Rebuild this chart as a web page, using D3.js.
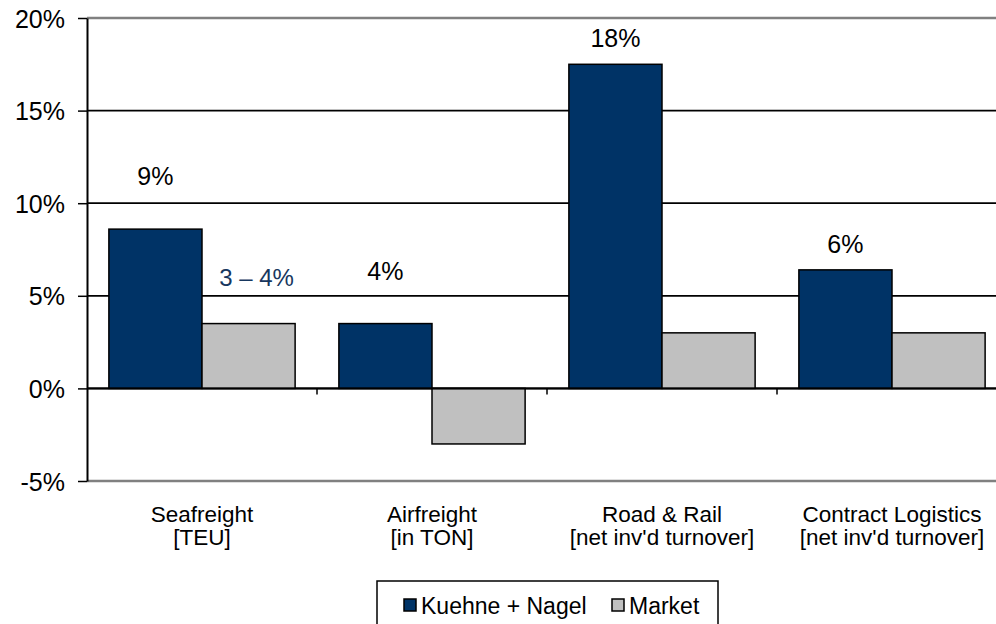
<!DOCTYPE html>
<html>
<head>
<meta charset="utf-8">
<script src="https://cdn.jsdelivr.net/npm/d3@7"></script>
<style>
  body { margin: 0; background: #fff; }
  text { font-family: "Liberation Sans", Arial, sans-serif; }
</style>
</head>
<body>
<div id="chart"></div>
<script>
const categories = ["Seafreight", "Airfreight", "Road & Rail", "Contract Logistics"];
const subLabels = ["[TEU]", "[in TON]", "[net inv'd turnover]", "[net inv'd turnover]"];
const seriesNames = ["Kuehne + Nagel", "Market"];
const knValues = [8.6, 3.5, 17.5, 6.4];
const marketValues = [3.5, -3.0, 3.0, 3.0];
const knLabels = ["9%", "4%", "18%", "6%"];
const marketNote = "3 \u2013 4%";
const yTicks = [-5, 0, 5, 10, 15, 20];

const W = 996, H = 624;
const margin = { left: 87, top: 18 };
const plotW = 920, plotH = 463;

const svg = d3.select("#chart").append("svg")
    .attr("width", W).attr("height", H);

const g = svg.append("g")
    .attr("transform", "translate(" + margin.left + "," + margin.top + ")");

const x = d3.scaleBand().domain(categories).range([0, plotW]);
const xSub = d3.scaleBand().domain(seriesNames)
    .range([0, x.bandwidth()]).paddingOuter(0.235);
const y = d3.scaleLinear().domain([-5, 20]).range([plotH, 0]);
const colors = ["#003366", "#c0c0c0"];

// gridlines (outer ones are the grey plot border)
g.selectAll("line.grid")
    .data(yTicks)
    .enter().append("line")
    .attr("x1", 0).attr("x2", plotW)
    .attr("y1", d => y(d)).attr("y2", d => y(d))
    .attr("stroke", d => (d === 20 || d === -5) ? "#808080" : "#000")
    .attr("stroke-width", d => (d === 20 || d === -5) ? 2.5 : 1.8);

// bars
const data = categories.map((c, i) => ({ c: c, vals: [knValues[i], marketValues[i]] }));
const groups = g.selectAll("g.cat")
    .data(data)
    .enter().append("g")
    .attr("transform", d => "translate(" + x(d.c) + ",0)");

groups.selectAll("rect")
    .data(d => d.vals.map((v, j) => ({ s: seriesNames[j], v: v, j: j })))
    .enter().append("rect")
    .attr("x", d => xSub(d.s))
    .attr("width", xSub.bandwidth())
    .attr("y", d => y(Math.max(0, d.v)))
    .attr("height", d => Math.abs(y(d.v) - y(0)))
    .attr("fill", d => colors[d.j])
    .attr("stroke", "#000")
    .attr("stroke-width", 1.5);

// zero line on top
g.append("line")
    .attr("x1", 0).attr("x2", plotW)
    .attr("y1", y(0)).attr("y2", y(0))
    .attr("stroke", "#000").attr("stroke-width", 2);

// category ticks on the zero line
g.selectAll("line.ctick")
    .data(categories.slice(1))
    .enter().append("line")
    .attr("x1", d => x(d)).attr("x2", d => x(d))
    .attr("y1", y(0)).attr("y2", y(0) + 6)
    .attr("stroke", "#000").attr("stroke-width", 1.5);

// y axis
const yAxis = g.append("g")
    .call(d3.axisLeft(y).tickValues(yTicks).tickFormat(d => d + "%").tickSize(9).tickSizeOuter(0));
yAxis.select(".domain").attr("stroke", "#000").attr("stroke-width", 2);
yAxis.selectAll(".tick line").attr("stroke", "#000").attr("stroke-width", 1.5);
yAxis.selectAll(".tick text")
    .attr("font-size", 25).attr("fill", "#000").attr("x", -22).attr("dy", "0.36em")
    .style("font-family", "'Liberation Sans', Arial, sans-serif");

// value labels: first two sit higher above their bars than the last two
const labelGap = [44, 44, 17, 17];
g.selectAll("text.kn")
    .data(data)
    .enter().append("text")
    .attr("x", d => x(d.c) + xSub(seriesNames[0]) + xSub.bandwidth() / 2)
    .attr("y", (d, i) => y(d.vals[0]) - labelGap[i])
    .attr("text-anchor", "middle")
    .attr("font-size", 25)
    .attr("fill", "#000")
    .text((d, i) => knLabels[i]);

g.append("text")
    .attr("x", x(categories[0]) + xSub(seriesNames[1]) + xSub.bandwidth() / 2 + 8)
    .attr("y", y(marketValues[0]) - 38)
    .attr("text-anchor", "middle")
    .attr("font-size", 24)
    .attr("fill", "#17375e")
    .text(marketNote);

// category labels
const catText = g.selectAll("text.cat")
    .data(categories)
    .enter().append("text")
    .attr("text-anchor", "middle")
    .attr("font-size", 22.5)
    .attr("fill", "#000");
catText.append("tspan")
    .attr("x", d => x(d) + x.bandwidth() / 2)
    .attr("y", plotH + 41)
    .text(d => d);
catText.append("tspan")
    .attr("x", d => x(d) + x.bandwidth() / 2)
    .attr("y", plotH + 64)
    .text((d, i) => subLabels[i]);

// legend
const legend = svg.append("g").attr("transform", "translate(377,581)");
legend.append("rect")
    .attr("width", 341).attr("height", 60)
    .attr("fill", "#fff").attr("stroke", "#000").attr("stroke-width", 1.5);
const legX = [27, 235];
seriesNames.forEach((s, i) => {
    legend.append("rect")
        .attr("x", legX[i]).attr("y", 18)
        .attr("width", 12).attr("height", 12)
        .attr("fill", colors[i]).attr("stroke", "#000").attr("stroke-width", 1.5);
    legend.append("text")
        .attr("x", legX[i] + 17).attr("y", 33)
        .attr("font-size", 23).attr("fill", "#000")
        .text(s);
});
</script>
</body>
</html>
